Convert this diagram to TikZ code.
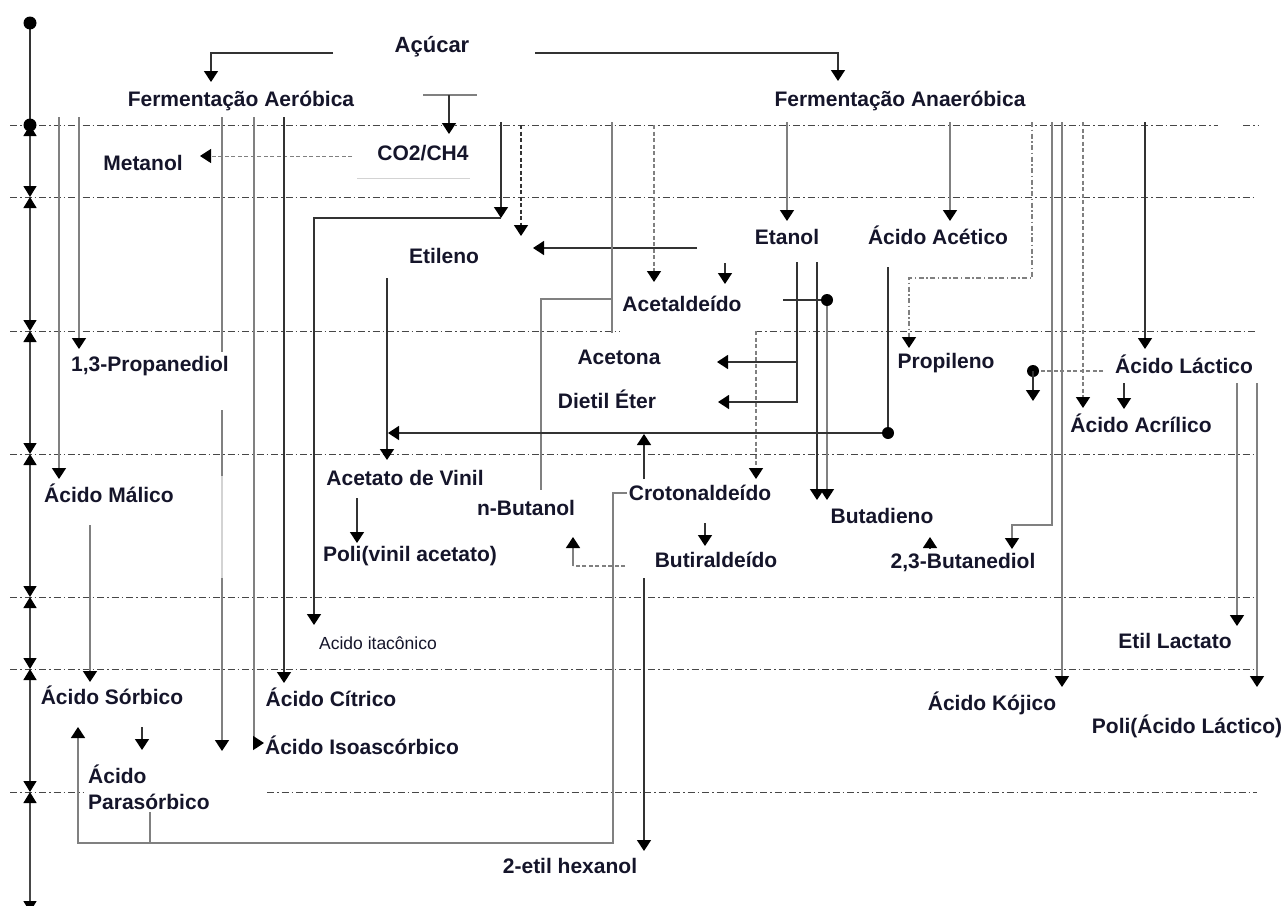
\documentclass[tikz,border=0pt]{standalone}
\usepackage{fontspec}
\setmainfont{Liberation Sans}
\usetikzlibrary{arrows.meta}
\definecolor{ln}{HTML}{333333}
\definecolor{lg}{HTML}{808080}
\definecolor{tx}{HTML}{15152A}
\tikzset{
 lbl/.style={font=\fontsize{21}{26}\selectfont\bfseries, text=tx, inner sep=0pt},
 sm/.style={font=\fontsize{17.5}{20}\selectfont, text=tx, inner sep=0pt},
 con/.style={draw=ln, line width=1.4pt},
 gcon/.style={draw=lg, line width=1.6pt},
 arr/.style={-{Triangle[width=14pt,length=11pt,color=black]}},
 gridl/.style={draw=ln!90, line width=1pt, dash pattern=on 7pt off 3pt on 1.5pt off 3pt},
 dsh/.style={dash pattern=on 4pt off 2.5pt},
 dashdotc/.style={dash pattern=on 5pt off 2.5pt on 1.5pt off 2.5pt},
 dim/.style={{Triangle[width=13pt,length=11pt,color=black]}-{Triangle[width=13pt,length=11pt,color=black]}, draw=ln!90, line width=1.4pt},
 dotm/.style={fill=black},
}
\begin{document}
\begin{tikzpicture}[x=1pt,y=-1pt]
\useasboundingbox (0,0) rectangle (1281,905);
\clip (0,0) rectangle (1281,905);
\fill[white] (0,0) rectangle (1281,905);

% dash-dot level lines
\foreach \y in {197,454,597,669} \draw[gridl] (10,\y) -- (1257,\y);
\draw[gridl] (10,125) -- (1218,125);
\draw[gridl] (1243,125) -- (1258,125);
\draw[gridl] (10,331) -- (620,331);
\draw[gridl] (755,331) -- (1257,331);
\draw[gridl] (10,792) -- (84,792);
\draw[gridl] (267,792) -- (1257,792);

% left axis
\draw[con] (30,23) -- (30,125);
\fill[dotm] (30,23) circle (6.5);
\foreach \a/\b in {125/197,197/331,331/454,454/597,597/669,669/792,792/912}
  \draw[dim] (30,\a) -- (30,\b);
\fill[dotm] (30,125) circle (6.5);

% nodes
\node[lbl, font=\fontsize{22}{26}\selectfont\bfseries] (acucar) at (432,47) {Açúcar};
\node[lbl] (faer) at (241,101) {Fermentação Aeróbica};
\node[lbl] (fana) at (900,101) {Fermentação Anaeróbica};
\node[lbl] (metanol) at (143,163) {Metanol};
\node[lbl] (co2) at (423,153) {CO2/CH4};
\node[lbl] (etileno) at (444,256) {Etileno};
\node[lbl] (etanol) at (787,237) {Etanol};
\node[lbl] (acetico) at (938,235) {Ácido Acético};
\node[lbl] (acetald) at (682,304) {Acetaldeído};
\node[lbl] (propanediol) at (150,366) {1,3-Propanediol};
\node[lbl] (acetona) at (619,357) {Acetona};
\node[lbl] (dietil) at (607,399) {Dietil Éter};
\node[lbl] (propileno) at (946,363) {Propileno};
\node[lbl] (lactico) at (1184,364) {Ácido Láctico};
\node[lbl] (acrilico) at (1141,423) {Ácido Acrílico};
\node[lbl] (vinil) at (405,478) {Acetato de Vinil};
\node[lbl] (malico) at (109,493) {Ácido Málico};
\node[lbl] (butanol) at (526,508) {n-Butanol};
\node[lbl] (croton) at (700,493) {Crotonaldeído};
\node[lbl] (butadieno) at (882,516) {Butadieno};
\node[lbl] (pva) at (410,556) {Poli(vinil acetato)};
\node[lbl] (butiral) at (716,560) {Butiraldeído};
\node[lbl] (butanediol) at (963,563) {2,3-Butanediol};
\node[sm] (itaconico) at (378,643) {Acido itacônico};
\node[lbl] (etillact) at (1175,641) {Etil Lactato};
\node[lbl] (sorbico) at (112,695) {Ácido Sórbico};
\node[lbl] (citrico) at (331,697) {Ácido Cítrico};
\node[lbl] (kojico) at (992,703) {Ácido Kójico};
\node[lbl] (isoasc) at (362,745) {Ácido Isoascórbico};
\node[lbl] (pla) at (1187,726) {Poli(Ácido Láctico)};
\node[lbl, align=left, anchor=west] (paras) at (88,787) {Ácido\\Parasórbico};
\node[lbl] (etilhex) at (570,866) {2-etil hexanol};

% Açúcar branches
\draw[con,arr] (333,53) -| (211,82);
\draw[con,arr] (535,53) -| (838,81);

% CO2/CH4
\draw[gcon] (423,95) -- (477,95);
\draw[con,arr] (449,95) -- (449,134);
\draw[gcon,arr,dsh,line width=1pt] (352,156) -- (200,156);
\draw[lg!35, line width=0.8pt] (357,178) -- (470,178);

% Aerobic verticals
\draw[gcon,arr] (59,117) -- (59,479);
\draw[gcon,arr] (79,117) -- (79,349);
\draw[gcon] (222,117) -- (222,352);
\draw[gcon] (222,410) -- (222,476);
\draw[lg!35, line width=1.5pt] (222,476) -- (222,578);
\draw[gcon,arr] (222,578) -- (222,751);
\draw[gcon,arr] (254,117) |- (264,743);
\draw[con,arr] (284,117) -- (284,683);

% Itaconic path
\draw[con,arr] (501,122) -- (501,218);
\draw[con,arr] (501,218) -| (314,625);
\draw[con,arr,dsh] (521,125) -- (521,236);
\draw[con,arr] (697,248) -- (533,248);

% n-Butanol line
\draw[gcon] (612,122) -- (612,333);
\draw[gcon] (612,299) -| (541,490);
\draw[gcon,arr,dsh] (654,125) -- (654,282);
\draw[con,arr] (725,263) -- (725,284);

% Anaerobic
\draw[gcon,arr] (787,122) -- (787,221);
\draw[gcon,arr] (950,122) -- (950,221);

% Etanol
\draw[con,arr] (797,262) |- (718,402);
\draw[con,arr] (797,362) -- (717,362);
\draw[con,arr] (817,262) -- (817,500);
\draw[gcon,arr] (827,300) -- (827,500);
\draw[con] (783,300) -- (827,300);
\fill[dotm] (827,300) circle (6);

% Crotonaldeido dashed
\draw[gcon,arr,dsh] (756,331) -- (756,479);

% Acetico -> Acetato de Vinil
\draw[con] (888,267) -- (888,433);
\draw[con,arr] (888,433) -- (388,433);
\fill[dotm] (888,433) circle (6);
\draw[con,arr] (387,278) -- (387,460);
\draw[con,arr] (644,479) -- (644,434);
\draw[con,arr] (357,498) -- (357,543);

% Butiraldeido -> n-Butanol
\draw[gcon,dsh] (625,566) -- (573,566);
\draw[gcon,arr] (573,566) -- (573,537);
\draw[con,arr] (705,523) -- (705,546);

% Crotonaldeido -> Acido Sorbico
\draw[gcon,arr] (627,493) -- (613,493) -- (613,843) -- (78,843) -- (78,727);
\draw[gcon] (150,812) -- (150,843);
\draw[con,arr] (644,578) -- (644,851);
\draw[gcon,arr] (90,525) -- (90,682);
\draw[con,arr] (142,727) -- (142,750);

% right side
\draw[gcon,arr,dashdotc] (1032,122) -- (1032,278) -- (909,278) -- (909,348);
\draw[gcon,arr] (1052,122) -- (1052,525) -- (1012,525) -- (1012,549);
\draw[gcon,arr] (1062,122) -- (1062,687);
\draw[gcon,arr,dsh] (1083,122) -- (1083,408);
\draw[con,arr] (1145,122) -- (1145,349);
\draw[gcon,dsh] (1103,371) -- (1033,371);
\fill[dotm] (1033,371) circle (6);
\draw[con,arr] (1033,371) -- (1033,401);
\draw[con,arr] (1124,383) -- (1124,409);
\draw[gcon,arr] (1237,383) -- (1237,626);
\draw[gcon,arr] (1257,383) -- (1257,687);
\draw[con,arr] (930,548) -- (930,537);
\end{tikzpicture}
\end{document}
